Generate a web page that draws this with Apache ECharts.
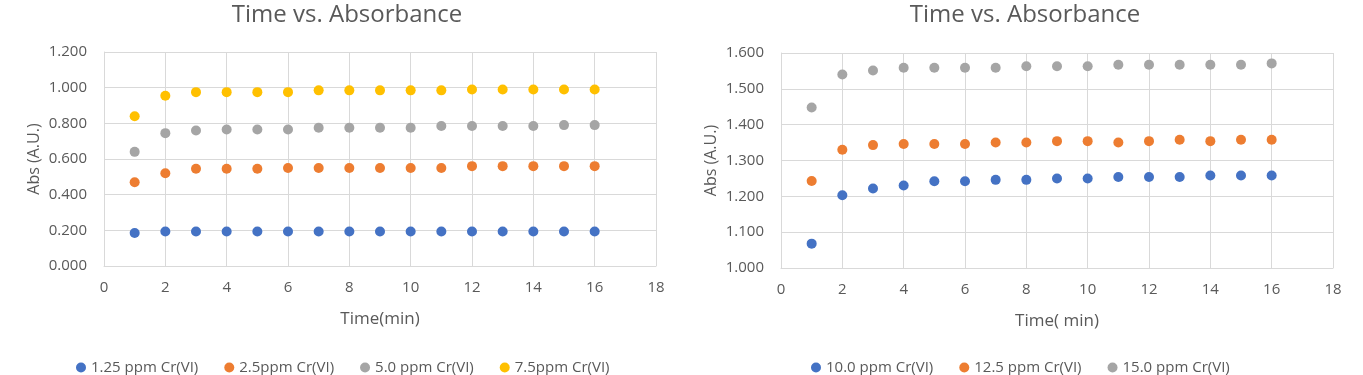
<!DOCTYPE html>
<html lang="en">
<head>
    <meta charset="UTF-8">
    <title>Time vs. Absorbance</title>
    <script src="https://cdn.jsdelivr.net/npm/echarts@6/dist/echarts.min.js"></script>
    <style>
        body { margin: 0; background: #fff; }
    </style>
</head>
<body>
<div id="main" style="width: 1363px; height: 375px"></div>
<script type="text/javascript">
    // time in minutes, same for every series
    var times = [1, 2, 3, 4, 5, 6, 7, 8, 9, 10, 11, 12, 13, 14, 15, 16];

    // left chart
    var leftNames = ['1.25 ppm Cr(VI)', '2.5ppm Cr(VI)', '5.0 ppm Cr(VI)', '7.5ppm Cr(VI)'];
    var abs125 = [0.185, 0.193, 0.193, 0.193, 0.193, 0.193, 0.193, 0.193, 0.193, 0.193, 0.193, 0.193, 0.193, 0.193, 0.193, 0.193];
    var abs25 = [0.470, 0.520, 0.545, 0.545, 0.545, 0.550, 0.550, 0.550, 0.550, 0.550, 0.550, 0.560, 0.560, 0.560, 0.560, 0.560];
    var abs50 = [0.640, 0.745, 0.760, 0.765, 0.765, 0.765, 0.775, 0.775, 0.775, 0.775, 0.785, 0.785, 0.785, 0.785, 0.790, 0.790];
    var abs75 = [0.840, 0.955, 0.975, 0.975, 0.975, 0.975, 0.985, 0.985, 0.985, 0.985, 0.985, 0.990, 0.990, 0.990, 0.990, 0.990];

    // right chart
    var rightNames = ['10.0 ppm Cr(VI)', '12.5 ppm Cr(VI)', '15.0 ppm Cr(VI)'];
    var abs100 = [1.068, 1.203, 1.222, 1.230, 1.242, 1.242, 1.246, 1.246, 1.250, 1.250, 1.254, 1.254, 1.254, 1.258, 1.258, 1.258];
    var abs125b = [1.243, 1.330, 1.343, 1.346, 1.346, 1.346, 1.350, 1.350, 1.354, 1.354, 1.350, 1.354, 1.358, 1.354, 1.358, 1.358];
    var abs150 = [1.448, 1.540, 1.551, 1.559, 1.559, 1.559, 1.559, 1.563, 1.563, 1.563, 1.567, 1.567, 1.567, 1.567, 1.567, 1.571];

    var colors = ['#4472C4', '#ED7D31', '#A5A5A5', '#FFC000'];
    var txt = '#595959';
    var font = 'Open Sans';

    function pairs(ys) {
        return times.map(function (t, i) { return [t, ys[i]]; });
    }

    function scatter(name, ys, idx, color) {
        return {
            name: name,
            type: 'scatter',
            xAxisIndex: idx,
            yAxisIndex: idx,
            symbolSize: 10,
            itemStyle: { color: color, opacity: 1 },
            data: pairs(ys)
        };
    }

    function xAxis(idx, title) {
        return {
            type: 'value', gridIndex: idx, min: 0, max: 18, interval: 2,
            name: title, nameLocation: 'middle', nameGap: 45,
            nameTextStyle: { color: txt, fontSize: 17, fontFamily: font },
            axisLine: { lineStyle: { color: '#d9d9d9' } },
            axisTick: { show: false },
            axisLabel: { color: txt, fontSize: 15, fontFamily: font, margin: 14 },
            splitLine: { lineStyle: { color: '#d9d9d9' } }
        };
    }

    function yAxis(idx, min, max) {
        return {
            type: 'value', gridIndex: idx, min: min, max: max, interval: idx === 0 ? 0.2 : 0.1,
            name: 'Abs (A.U.)', nameLocation: 'middle', nameGap: 62,
            nameTextStyle: { color: txt, fontSize: 16, fontFamily: font },
            axisLine: { show: true, lineStyle: { color: '#d9d9d9' } },
            axisTick: { show: false },
            axisLabel: {
                color: txt, fontSize: 15, fontFamily: font, margin: 17,
                formatter: function (v) { return v.toFixed(3); }
            },
            splitLine: { lineStyle: { color: '#d9d9d9' } }
        };
    }

    var myChart = echarts.init(document.getElementById('main'));
    var option = {
        animation: false,
        title: [
            { text: 'Time vs. Absorbance', left: 342, top: -2, textAlign: 'center',
              textStyle: { color: txt, fontSize: 24, fontWeight: 'normal', fontFamily: font } },
            { text: 'Time vs. Absorbance', left: 1020, top: -2, textAlign: 'center',
              textStyle: { color: txt, fontSize: 24, fontWeight: 'normal', fontFamily: font } }
        ],
        legend: [
            { data: leftNames, left: 76, top: 360, padding: 0, icon: 'circle', itemWidth: 10, itemHeight: 10, itemGap: 26,
              textStyle: { color: txt, fontSize: 15, fontFamily: font } },
            { data: rightNames, left: 811, top: 360, padding: 0, icon: 'circle', itemWidth: 10, itemHeight: 10, itemGap: 26,
              textStyle: { color: txt, fontSize: 15, fontFamily: font } }
        ],
        grid: [
            { left: 104, top: 52, width: 552, height: 214 },
            { left: 781, top: 53, width: 552, height: 215 }
        ],
        xAxis: [xAxis(0, 'Time(min)'), xAxis(1, 'Time( min)')],
        yAxis: [yAxis(0, 0, 1.2), yAxis(1, 1.0, 1.6)],
        series: [
            scatter(leftNames[0], abs125, 0, colors[0]),
            scatter(leftNames[1], abs25, 0, colors[1]),
            scatter(leftNames[2], abs50, 0, colors[2]),
            scatter(leftNames[3], abs75, 0, colors[3]),
            scatter(rightNames[0], abs100, 1, colors[0]),
            scatter(rightNames[1], abs125b, 1, colors[1]),
            scatter(rightNames[2], abs150, 1, colors[2])
        ]
    };
    myChart.setOption(option);
</script>
</body>
</html>
